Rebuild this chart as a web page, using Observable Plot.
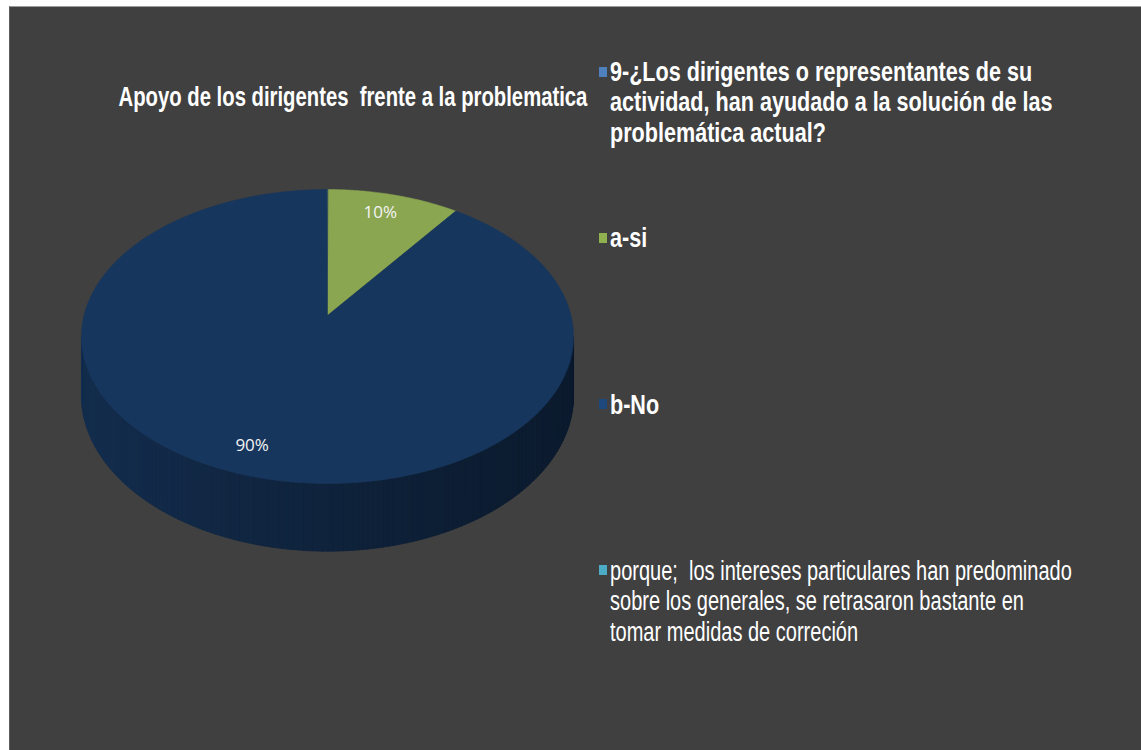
<!DOCTYPE html>
<html>
<head>
<meta charset="utf-8">
<script src="https://cdn.jsdelivr.net/npm/d3@7"></script>
<script src="https://cdn.jsdelivr.net/npm/@observablehq/plot@0.6"></script>
<style>
  html, body { margin: 0; padding: 0; background: #ffffff; width: 1141px; height: 750px; overflow: hidden; }
  #panel { position: absolute; left: 9px; top: 6px; width: 1132px; height: 744px; background: #404040;
           border-top: 1px solid #9c9c9c; border-left: 1px solid #5c5c5c; box-sizing: border-box;
           font-family: "Liberation Sans", Arial, sans-serif; color: #ffffff; }
  #title { position: absolute; width: 700px; text-align: center; white-space: pre; font-weight: bold;
           font-size: 26px; line-height: 26px; transform-origin: 50% 0; transform: scale(0.78, 1.08); }
  #chart { position: absolute; }
  .leg-text { position: absolute; white-space: pre; font-size: 26px; line-height: 28.3px;
              transform-origin: 0 0; }
  .leg-sw { position: absolute; width: 8px; height: 10px; }
</style>
</head>
<body>
<div id="panel">
  <div id="title"></div>
  <div id="chart"></div>
  <div id="legend"></div>
</div>
<script>
// ---------- data ----------
const title = "Apoyo de los dirigentes  frente a la problematica";
const categories = [
  "9-¿Los dirigentes o representantes de su\nactividad, han ayudado a la solución de las\nproblemática actual?",
  "a-si",
  "b-No",
  "porque;  los intereses particulares han predominado\nsobre los generales, se retrasaron bastante en\ntomar medidas de correción"
];
const values = [0, 10, 90, 0];
// ---------- styles ----------
const legendColors = ["#4f81bd", "#8fb150", "#1f497d", "#4bacc6"];
const sliceColors  = ["#4a7ab3", "#8aa650", "#17365d", "#45a0b8"];
const legendBold   = [true, true, true, false];

// panel offset on the page
const OX = 9, OY = 6;

// ---------- title ----------
const titleEl = document.getElementById("title");
titleEl.textContent = title;
titleEl.style.left = (352 - 350 - OX) + "px";
titleEl.style.top = (105 - 22 * 1.08 - OY) + "px";

// ---------- pie (3D look) ----------
const W = 540, H = 400, PX = 60, PY = 170;          // svg placed at page (60,170)
const cx = 326 - PX, cy = 314 - PY;                  // apex of the slices
const R = 243.5, Rt = 144, D = 7, depth = 58;        // radius, tilt, perspective, thickness

function proj(theta, k = 1, drop = 0) {
  const s = Math.sin(theta), c = Math.cos(theta);
  const f = D / (D + k * c);
  return [cx + k * R * s * f, cy - k * Rt * c * f + drop * f];
}

const total = d3.sum(values);
let acc = 0;
const slices = values.map((v, i) => {
  const a0 = acc / total * 2 * Math.PI; acc += v;
  const a1 = acc / total * 2 * Math.PI;
  return {i, v, a0, a1};
});

// top faces
const topRows = [];
for (const s of slices) {
  if (s.v <= 0) continue;
  topRows.push({slice: s.i, x: cx, y: cy, fill: sliceColors[s.i]});
  const n = Math.max(2, Math.ceil((s.a1 - s.a0) / 0.01));
  for (let t = 0; t <= n; t++) {
    const [x, y] = proj(s.a0 + (s.a1 - s.a0) * t / n);
    topRows.push({slice: s.i, x, y, fill: sliceColors[s.i]});
  }
}

// visible side (front), shaded left -> right
const thR = Math.acos(-1 / D), thL = 2 * Math.PI - thR;
const xLeft = proj(thL)[0], xRight = proj(thR)[0];
const sideRows = [];
const NS = 160;
for (let j = 0; j < NS; j++) {
  const t0 = thR + (thL - thR) * j / NS, t1 = thR + (thL - thR) * (j + 1) / NS;
  const tm = (t0 + t1) / 2;
  const sl = slices.find(s => s.v > 0 && tm >= s.a0 && tm <= s.a1) || slices[2];
  const xm = proj(tm)[0];
  const u = (xm - xLeft) / (xRight - xLeft);
  const col = d3.color(sliceColors[sl.i]).darker(0.5 + 1.5 * u).formatHex();
  const p0 = proj(t0), p1 = proj(t1), q1 = proj(t1, 1, depth), q0 = proj(t0, 1, depth);
  for (const [x, y] of [p0, p1, q1, q0]) sideRows.push({seg: j, x, y, fill: col});
}

// percentage labels
const fmt = d3.format(".0%");
const labelRows = slices.filter(s => s.v > 0).map(s => {
  const [x, y] = proj((s.a0 + s.a1) / 2, 0.84);
  return {x, y, text: fmt(s.v / total)};
});

const chart = Plot.plot({
  width: W, height: H, margin: 0,
  x: {domain: [0, W], range: [0, W], axis: null},
  y: {domain: [0, H], range: [0, H], axis: null},
  style: {background: "transparent", overflow: "visible"},
  marks: [
    Plot.line(sideRows, {x: "x", y: "y", z: "seg", fill: "fill", stroke: "fill", strokeWidth: 0.8, curve: "linear-closed"}),
    Plot.line(topRows, {x: "x", y: "y", z: "slice", fill: "fill", stroke: "fill", strokeWidth: 0.5, curve: "linear-closed"}),
    Plot.text(labelRows, {x: "x", y: "y", dx: -4, text: "text", fill: "#f4f4f4", fontSize: 17,
                          fontFamily: "'Open Sans', Lato, sans-serif"})
  ]
});
const chartEl = document.getElementById("chart");
chartEl.style.left = (PX - OX) + "px";
chartEl.style.top = (PY - OY) + "px";
chartEl.appendChild(chart);

// ---------- legend ----------
const legend = document.getElementById("legend");
categories.forEach((c, i) => {
  const baseline = 80.5 + 166.3 * i;            // first-line baseline on the page
  const sw = document.createElement("div");
  sw.className = "leg-sw";
  sw.style.background = legendColors[i];
  sw.style.left = (598 - OX) + "px";
  sw.style.top = (baseline - 15 - OY) + "px";
  legend.appendChild(sw);
  const tx = document.createElement("div");
  tx.className = "leg-text";
  tx.textContent = c;
  tx.style.fontWeight = legendBold[i] ? "bold" : "normal";
  tx.style.transform = `scale(${legendBold[i] ? 0.83 : 0.77}, 1.06)`;
  tx.style.left = (609 - OX) + "px";
  // line-height 28.3 -> baseline offset 23.15, scaled by 1.06
  tx.style.top = (baseline - 23.15 * 1.06 - OY) + "px";
  legend.appendChild(tx);
});
</script>
</body>
</html>
